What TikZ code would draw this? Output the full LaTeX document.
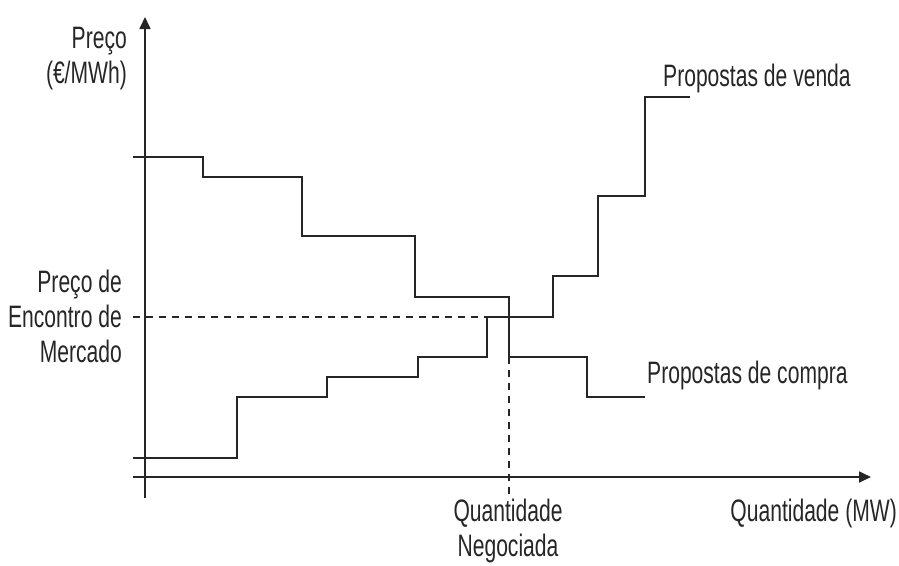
\documentclass[tikz,border=0pt]{standalone}
\usepackage{fontspec}
\setmainfont{Liberation Sans}[FakeStretch=0.68]
\usetikzlibrary{arrows.meta}
\definecolor{ink}{HTML}{262626}
\tikzset{
  axis/.style={draw=ink, line width=1.7pt, -{Triangle[length=12pt,width=11pt]}},
  curve/.style={draw=ink, line width=1.7pt, line join=miter},
  guide/.style={draw=ink, line width=1.5pt, dash pattern=on 7pt off 6pt},
  lbl/.style={inner sep=0pt, text=ink, font=\fontsize{31}{35}\selectfont},
}
\begin{document}
\begin{tikzpicture}[x=1pt, y=-1pt]
\useasboundingbox (0,0) rectangle (899,565);

% axes
\coordinate (yb) at (145,498);
\coordinate (yt) at (145,17);
\coordinate (xl) at (133,477);
\coordinate (xr) at (871,477);
\draw[axis] (yb) -- (yt);
\draw[axis] (xl) -- (xr);

% equilibrium point and guide lines
\coordinate (pl) at (133,317);
\coordinate (sx) at (487,317);
\coordinate (qb) at (509,357);
\coordinate (qe) at (509,500);
\draw[guide] (pl) -- (sx);
\draw[guide] (qb) -- (qe);

% buying bids (decreasing steps)
\coordinate (d0) at (133,157);
\coordinate (d1) at (645,397);
\draw[curve] (d0) -- (203,157) -- (203,177) -- (302,177) -- (302,236)
  -- (415,236) -- (415,297) -- (509,297) -- (509,357) -- (587,357)
  -- (587,397) -- (d1);

% selling bids (increasing steps)
\coordinate (s0) at (133,458);
\coordinate (s1) at (690,97);
\draw[curve] (s0) -- (237,458) -- (237,397) -- (327,397) -- (327,377)
  -- (418,377) -- (418,357) -- (487,357) -- (487,317) -- (553,317)
  -- (553,276) -- (598,276) -- (598,196) -- (645,196) -- (645,97) -- (s1);

% labels (multi-line nodes: base anchor sits on the last line)
\node[lbl, anchor=base east, align=right] (ylab) at (127,83) {Preço\\(€/MWh)};
\node[lbl, anchor=base east, align=right] (plab) at (122,362) {Preço de\\Encontro de\\Mercado};
\node[lbl, anchor=base, align=center] (qlab) at (508,556) {Quantidade\\Negociada};
\node[lbl, anchor=base east] (xlab) at (897,521) {Quantidade (MW)};
\node[lbl, anchor=base west] (vlab) at (663,86) {Propostas de venda};
\node[lbl, anchor=base west] (clab) at (647,383) {Propostas de compra};
\end{tikzpicture}
\end{document}
